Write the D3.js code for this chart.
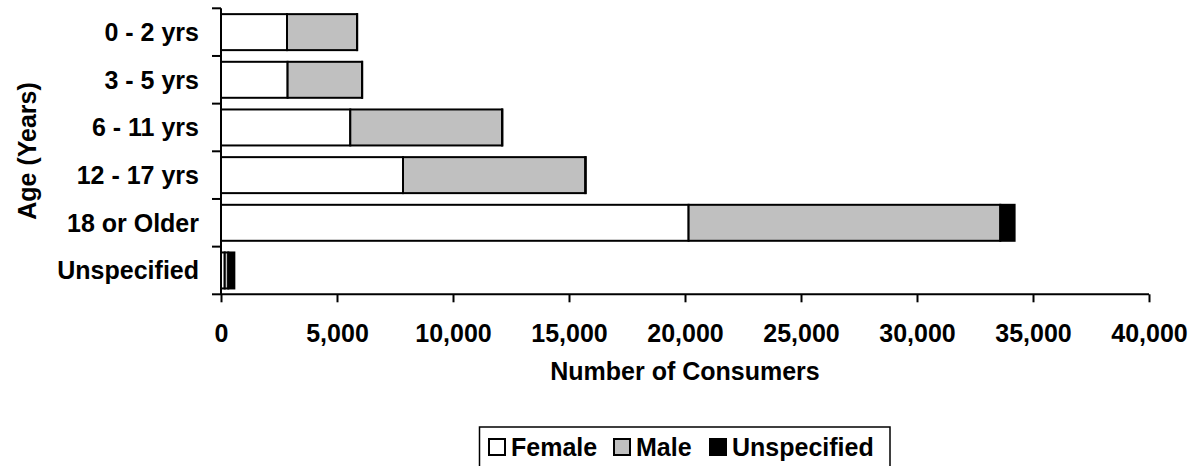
<!DOCTYPE html>
<html>
<head>
<meta charset="utf-8">
<script src="https://cdn.jsdelivr.net/npm/d3@7/dist/d3.min.js"></script>
<style>
  html, body { margin: 0; padding: 0; background: #fff; }
  text { font-family: "Liberation Sans", Arial, sans-serif; font-weight: bold; fill: #000; }
</style>
</head>
<body>
<svg id="chart" width="1195" height="466"></svg>
<script>
const categories = ["0 - 2 yrs", "3 - 5 yrs", "6 - 11 yrs", "12 - 17 yrs", "18 or Older", "Unspecified"];
const seriesNames = ["Female", "Male", "Unspecified"];
const female = [2845, 2871, 5573, 7845, 20155, 160];
const male = [3017, 3207, 6539, 7858, 13436, 155];
const unspecified = [10, 10, 20, 20, 616, 260];
const xTicks = [0, 5000, 10000, 15000, 20000, 25000, 30000, 35000, 40000];
const colors = ["#FFFFFF", "#C0C0C0", "#000000"];

const svg = d3.select("#chart");
const fs = 25;

const x = d3.scaleLinear().domain([0, 40000]).range([221, 1149]);
const y = d3.scaleBand().domain(categories).range([8.3, 294.3]).paddingInner(0.245).paddingOuter(0.1225);

const rows = categories.map((c, i) => ({ cat: c, Female: female[i], Male: male[i], Unspecified: unspecified[i] }));
const stacked = d3.stack().keys(seriesNames)(rows);

const g = svg.append("g");
stacked.forEach((layer, si) => {
  g.selectAll(null).data(layer).enter().append("rect")
    .attr("x", d => x(d[0]))
    .attr("y", d => y(d.data.cat))
    .attr("width", d => Math.max(0, x(d[1]) - x(d[0])))
    .attr("height", y.bandwidth())
    .attr("fill", colors[si])
    .attr("stroke", "#000")
    .attr("stroke-width", 2);
});

// X axis
const xAxis = d3.axisBottom(x).tickValues(xTicks).tickSize(8).tickFormat(d3.format(","));
const xg = svg.append("g").attr("transform", "translate(0,294.3)").call(xAxis);
xg.select(".domain").attr("stroke", "#000").attr("stroke-width", 2).attr("d", "M221,0H1149");
xg.selectAll(".tick line").attr("stroke", "#000").attr("stroke-width", 2);
xg.selectAll(".tick text").attr("font-size", fs).attr("font-family", "Liberation Sans, Arial, sans-serif")
  .attr("font-weight", "bold").attr("fill", "#000").attr("y", 30).attr("dy", "0.71em");

// Y axis: line and ticks at band boundaries
const yg = svg.append("g");
yg.append("line").attr("x1", 221).attr("x2", 221).attr("y1", 8.3).attr("y2", 294.3)
  .attr("stroke", "#000").attr("stroke-width", 2);
const step = y.step();
const boundaries = d3.range(categories.length + 1).map(i => 8.3 + i * step);
yg.selectAll(null).data(boundaries).enter().append("line")
  .attr("x1", 212).attr("x2", 221).attr("y1", d => d).attr("y2", d => d)
  .attr("stroke", "#000").attr("stroke-width", 2);
yg.selectAll(null).data(categories).enter().append("text")
  .attr("x", 199).attr("y", d => y(d) + y.bandwidth() / 2 + 9)
  .attr("text-anchor", "end").attr("font-size", fs).text(d => d);

// Axis titles
svg.append("text").attr("x", 685).attr("y", 380).attr("text-anchor", "middle")
  .attr("font-size", fs).text("Number of Consumers");
svg.append("text").attr("transform", "translate(36,151) rotate(-90)").attr("text-anchor", "middle")
  .attr("font-size", fs).text("Age (Years)");

// Legend
const lg = svg.append("g");
lg.append("rect").attr("x", 479.5).attr("y", 427).attr("width", 410.5).attr("height", 45)
  .attr("fill", "#fff").attr("stroke", "#000").attr("stroke-width", 1.5);
const legendX = [488, 613, 709];
seriesNames.forEach((name, i) => {
  lg.append("rect").attr("x", legendX[i] + 1).attr("y", 439).attr("width", 16).attr("height", 16)
    .attr("fill", colors[i]).attr("stroke", "#000").attr("stroke-width", 2);
  lg.append("text").attr("x", legendX[i] + 23).attr("y", 455.5).attr("font-size", fs).text(name);
});
</script>
</body>
</html>
